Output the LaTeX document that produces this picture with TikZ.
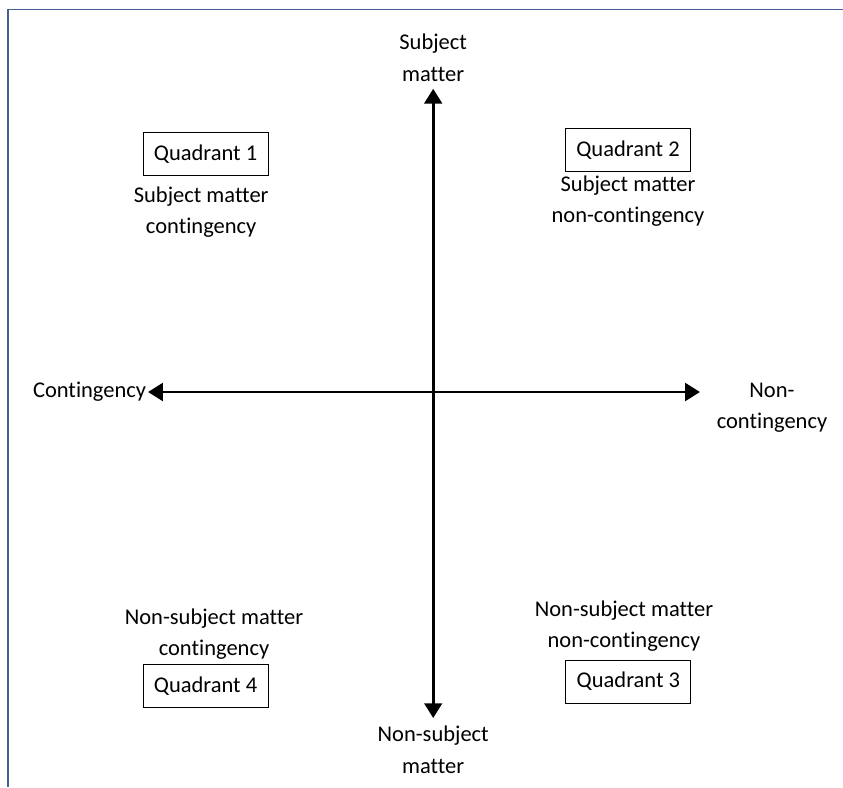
\documentclass[tikz,border=0pt]{standalone}
\usepackage{fontspec}
\setmainfont{Carlito}[Ligatures=NoCommon]
\usepackage{tikz}
\usetikzlibrary{arrows.meta}
\usepackage{xcolor}
\definecolor{frameblue}{RGB}{68,96,150}

\tikzset{
  quad/.style={draw, thick, minimum width=3.125cm, minimum height=1.075cm, inner sep=0pt},
  lbl/.style={align=center, inner sep=0pt},
  axis/.style={line width=2.1pt, >={Triangle[length=10.5pt,width=12.5pt]}}
}

\begin{document}
\begin{tikzpicture}[every node/.style={font=\fontsize{16}{22.5}\selectfont}]
\useasboundingbox (0,0) rectangle (21.075,-19.675);
\draw [frameblue, line width=1pt] (0.2,-19.675) -- (0.2,-0.24) -- (21.075,-0.24);
\coordinate (top) at (10.83,-2.22);
\coordinate (bottom) at (10.83,-17.95);
\coordinate (left) at (3.7,-9.8);
\coordinate (right) at (17.5,-9.8);
\draw [axis, <->] (bottom) -- (top);
\draw [axis, <->] (left) -- (right);
\node (sm) [lbl] at (10.83,-1.45) {Subject\\matter};
\node (nsm) [lbl] at (10.83,-18.75) {Non-subject\\matter};
\node (c) [lbl, anchor=east] at (3.66,-9.8) {Contingency};
\node (nc) [lbl] at (19.3,-10.19) {Non-\\contingency};
\node (q1) [quad] at (5.14,-3.86) {Quadrant 1};
\node (q2) [quad] at (15.7,-3.75) {Quadrant 2};
\node (q3) [quad] at (15.71,-17.04) {Quadrant 3};
\node (q4) [quad] at (5.14,-17.15) {Quadrant 4};
\node (t1) [lbl] at (5.03,-5.3) {Subject matter\\contingency};
\node (t2) [lbl] at (15.7,-5.03) {Subject matter\\non-contingency};
\node (t3) [lbl] at (15.6,-15.65) {Non-subject matter\\non-contingency};
\node (t4) [lbl] at (5.35,-15.85) {Non-subject matter\\contingency};
\end{tikzpicture}
\end{document}
